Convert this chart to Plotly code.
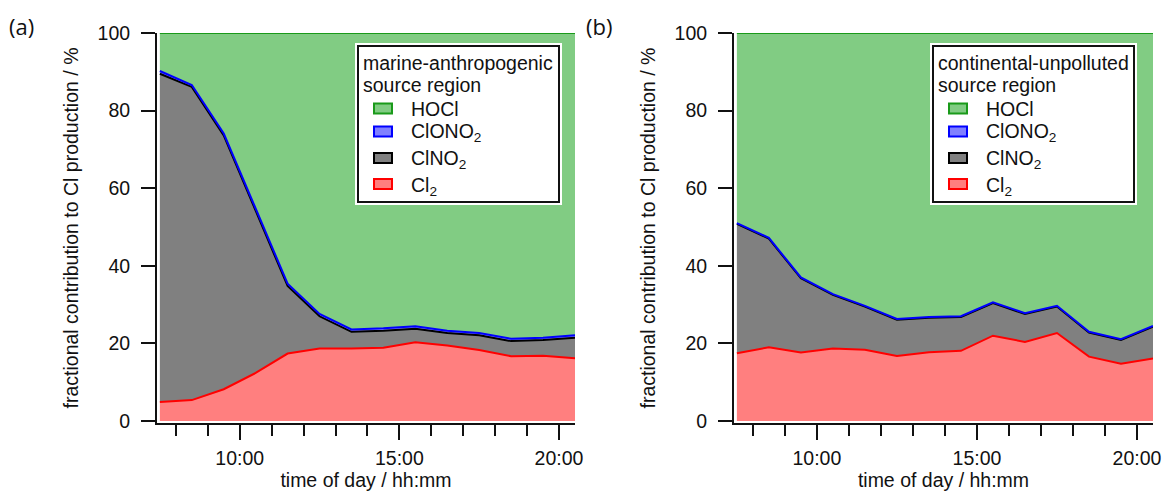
import plotly.graph_objects as go

# ---- data ----
hours = [7.5, 8.5, 9.5, 10.5, 11.5, 12.5, 13.5, 14.5, 15.5, 16.5, 17.5, 18.5, 19.5, 20.5]

# (a) marine-anthropogenic source region (% contribution)
a_cl2 = [4.9, 5.4, 8.2, 12.4, 17.4, 18.7, 18.7, 18.9, 20.3, 19.5, 18.3, 16.7, 16.8, 16.2]
a_clno2 = [84.6, 80.7, 65.4, 41.9, 17.4, 8.3, 4.3, 4.4, 3.5, 3.2, 3.8, 3.9, 4.1, 5.3]
a_clono2 = [0.7, 0.5, 0.5, 0.5, 0.6, 0.6, 0.6, 0.6, 0.6, 0.6, 0.6, 0.6, 0.6, 0.6]
a_hocl = [9.8, 13.4, 25.9, 45.2, 64.6, 72.4, 76.4, 76.1, 75.6, 76.7, 77.3, 78.8, 78.5, 77.9]

# (b) continental-unpolluted source region (% contribution)
b_cl2 = [17.5, 19.0, 17.7, 18.7, 18.4, 16.8, 17.7, 18.1, 22.0, 20.4, 22.7, 16.6, 14.8, 16.1]
b_clno2 = [33.3, 28.0, 19.1, 13.8, 11.1, 9.3, 8.9, 8.7, 8.4, 7.2, 6.8, 6.2, 6.1, 8.2]
b_clono2 = [0.2, 0.2, 0.2, 0.2, 0.2, 0.2, 0.2, 0.2, 0.2, 0.2, 0.2, 0.2, 0.2, 0.2]
b_hocl = [49.0, 52.8, 63.0, 67.3, 70.3, 73.7, 73.2, 73.0, 69.4, 72.2, 70.3, 77.0, 78.9, 75.5]

species = ["Cl<sub>2</sub>", "ClNO<sub>2</sub>", "ClONO<sub>2</sub>", "HOCl"]
legend_titles = [["marine-anthropogenic", "source region"],
                 ["continental-unpolluted", "source region"]]
tick_vals = [10, 15, 20]
tick_text = ["10:00", "15:00", "20:00"]
y_ticks = [0, 20, 40, 60, 80, 100]

# ---- styles ----
fills = ["#FF7F7F", "#808080", "#8080FF", "#81CC83"]
lines = ["#FF0000", "#000000", "#0000FF", "#1A9A1A"]
FONT = "Liberation Sans, Arial, sans-serif"
INK = "#111111"
FS = 19.5

W, H = 1164, 492
def px_x(p):
    return p / W
def px_y(p):
    return 1 - p / H

fig = go.Figure()

panels = [
    ("a", [a_cl2, a_clno2, a_clono2, a_hocl], "x", "y"),
    ("b", [b_cl2, b_clno2, b_clono2, b_hocl], "x2", "y2"),
]
for key, series, xa, ya in panels:
    for name, vals, fc, lc in zip(species, series, fills, lines):
        fig.add_trace(go.Scatter(
            x=hours, y=vals, name=name, stackgroup=key, mode="lines",
            line=dict(color=lc, width=2), fillcolor=fc,
            xaxis=xa, yaxis=ya, showlegend=False, hoverinfo="x+y+name",
        ))

xaxis_common = dict(
    range=[7.41, 20.5], tickvals=tick_vals, ticktext=tick_text,
    ticks="outside", ticklen=15, tickwidth=2, tickcolor=INK,
    minor=dict(dtick=1, tick0=0, ticks="outside", ticklen=11, tickwidth=2, tickcolor=INK),
    showline=True, linecolor=INK, linewidth=2, showgrid=False, zeroline=False,
    tickfont=dict(size=FS, family=FONT, color=INK), ticklabelstandoff=2,
    title=dict(text="time of day / hh:mm", font=dict(size=FS, family=FONT, color=INK), standoff=4),
    automargin=False, fixedrange=True,
)
yaxis_common = dict(
    range=[-0.5, 100], tickvals=y_ticks,
    ticks="outside", ticklen=14, tickwidth=2, tickcolor=INK,
    showline=True, linecolor=INK, linewidth=2, showgrid=False, zeroline=False,
    tickfont=dict(size=FS, family=FONT, color=INK), ticklabelstandoff=7,
    title=dict(text="fractional contribution to Cl production / %",
               font=dict(size=FS, family=FONT, color=INK), standoff=14),
    automargin=False, fixedrange=True,
)

# ---- legend boxes (drawn as shapes + text, matching the framed key) ----
shapes = []
annotations = []
legend_dx = [0, 575]
swatch_y = [184, 158, 131.5, 108.5]   # Cl2, ClNO2, ClONO2, HOCl
text_y = [183.5, 157, 130, 108]
for p, dx in enumerate(legend_dx):
    x0, x1, y0, y1 = 355 + dx, 562 + dx, 43, 205
    shapes.append(dict(type="rect", xref="paper", yref="paper",
                       x0=px_x(x0), x1=px_x(x1), y0=px_y(y1), y1=px_y(y0),
                       fillcolor="white", line=dict(width=0), layer="above"))
    shapes.append(dict(type="rect", xref="paper", yref="paper",
                       x0=px_x(x0 + 3), x1=px_x(x1 - 3), y0=px_y(y1 - 3), y1=px_y(y0 + 3),
                       fillcolor="white", line=dict(color=INK, width=2), layer="above"))
    for i, line_txt in enumerate(legend_titles[p]):
        cy = [62, 84][i]
        annotations.append(dict(text=line_txt, x=px_x(361 + dx), y=px_y(cy - 0.547 * FS - 1),
                                xref="paper", yref="paper", xanchor="left", yanchor="top",
                                showarrow=False, font=dict(size=FS, family=FONT, color=INK)))
    for name, fc, lc, sy, ty in zip(species, fills, lines, swatch_y, text_y):
        shapes.append(dict(type="rect", xref="paper", yref="paper",
                           x0=px_x(374 + dx), x1=px_x(392 + dx),
                           y0=px_y(sy + 5), y1=px_y(sy - 5),
                           fillcolor=fc, line=dict(color=lc, width=2), layer="above"))
        annotations.append(dict(text=name, x=px_x(409 + dx), y=px_y(ty - 0.547 * FS - 1),
                                xref="paper", yref="paper", xanchor="left", yanchor="top",
                                showarrow=False, font=dict(size=FS, family=FONT, color=INK)))

annotations += [
    dict(text="(a)", x=px_x(7), y=px_y(26), xref="paper", yref="paper",
         xanchor="left", yanchor="middle", showarrow=False,
         font=dict(size=22, family="Open Sans, sans-serif", color=INK)),
    dict(text="(b)", x=px_x(584), y=px_y(26), xref="paper", yref="paper",
         xanchor="left", yanchor="middle", showarrow=False,
         font=dict(size=22, family="Open Sans, sans-serif", color=INK)),
]

ydom = [px_y(423), px_y(33)]
fig.update_layout(
    width=W, height=H, margin=dict(l=0, r=0, t=0, b=0),
    paper_bgcolor="white", plot_bgcolor="white",
    font=dict(family=FONT, color=INK),
    showlegend=False,
    xaxis=dict(domain=[px_x(157), px_x(575)], anchor="y", **xaxis_common),
    yaxis=dict(domain=ydom, anchor="x", **yaxis_common),
    xaxis2=dict(domain=[px_x(734), px_x(1153)], anchor="y2", **xaxis_common),
    yaxis2=dict(domain=ydom, anchor="x2", **yaxis_common),
    shapes=shapes,
    annotations=annotations,
)

fig.write_html("out.html")
